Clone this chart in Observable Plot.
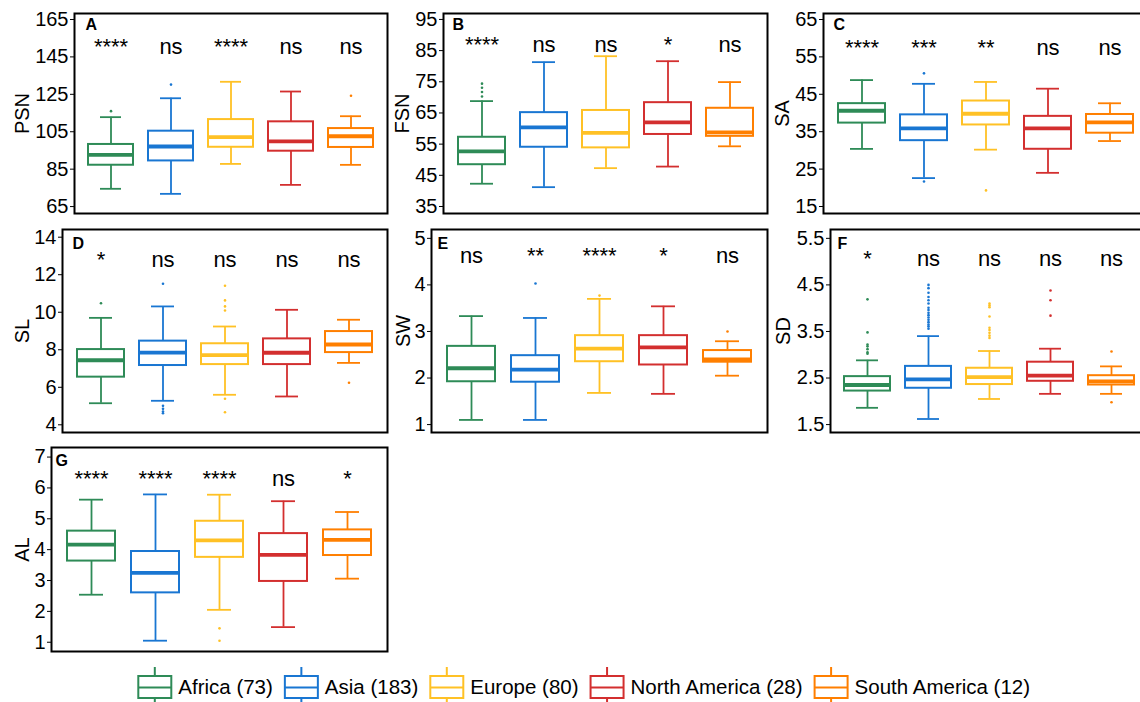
<!DOCTYPE html>
<html>
<head>
<meta charset="utf-8">
<script src="https://cdn.jsdelivr.net/npm/d3@7"></script>
<script src="https://cdn.jsdelivr.net/npm/@observablehq/plot@0.6"></script>
<style>
  body { margin: 0; background: #fff; }
  #wrap { position: relative; width: 1140px; height: 702px; overflow: hidden; font-family: "Liberation Sans", Arial, sans-serif; }
  .panel { position: absolute; }
  #legend { position: absolute; left: 0; top: 664px; }
</style>
</head>
<body>
<div id="wrap"></div>
<script>
// ---------- data ----------
const regions = ["Africa", "Asia", "Europe", "North America", "South America"];
const counts = [73, 183, 80, 28, 12];
const colors = ["#2E8B57", "#1976D2", "#FFC125", "#D32F2F", "#FF7F00"];

// box stats per region: [lower whisker, Q1, median, Q3, upper whisker]
const PSN = [[74.5, 87.1, 92.6, 98.2, 112.8], [71.8, 89.4, 97.1, 105.3, 122.9], [87.8, 96.7, 102.1, 111.5, 131.7], [76.6, 94.6, 99.8, 110.3, 126.5], [87.3, 96.6, 102.6, 106.7, 113.3]];
const PSN_out = [[116.0], [130.2], [], [], [124.2]];
const PSN_sig = ["****", "ns", "****", "ns", "ns"];
const PSN_ticks = [65, 85, 105, 125, 145, 165];

const FSN = [[42.3, 48.4, 52.65, 57.2, 68.8], [41.2, 54.0, 60.4, 65.1, 81.3], [47.3, 53.8, 58.6, 65.8, 83.2], [47.8, 58.1, 62.0, 68.3, 81.6], [54.3, 57.5, 58.8, 66.5, 74.9]];
const FSN_out = [[70.3, 71.7, 73.1, 74.4], [], [], [], []];
const FSN_sig = ["****", "ns", "ns", "*", "ns"];
const FSN_ticks = [35, 45, 55, 65, 75, 85, 95];

const SA = [[30.4, 37.3, 40.6, 42.5, 48.8], [22.6, 32.6, 35.9, 39.5, 47.8], [30.2, 36.8, 39.8, 43.2, 48.3], [24.0, 30.3, 35.9, 39.1, 46.5], [32.5, 34.6, 37.5, 39.6, 42.6]];
const SA_out = [[], [50.6, 21.7], [19.3], [], []];
const SA_sig = ["****", "***", "**", "ns", "ns"];
const SA_ticks = [15, 25, 35, 45, 55, 65];

const SL = [[5.15, 6.54, 7.44, 8.01, 9.70], [5.28, 7.16, 7.85, 8.46, 10.31], [5.60, 7.21, 7.71, 8.32, 9.24], [5.51, 7.21, 7.84, 8.58, 10.13], [7.30, 7.85, 8.28, 8.97, 9.60]];
const SL_out = [[10.48], [11.52, 5.01, 4.85, 4.71, 4.62], [11.41, 10.63, 10.31, 10.09, 5.39, 4.67], [], [6.24]];
const SL_sig = ["*", "ns", "ns", "ns", "ns"];
const SL_ticks = [4, 6, 8, 10, 12, 14];

const SW = [[1.10, 1.92, 2.21, 2.68, 3.33], [1.10, 1.91, 2.18, 2.48, 3.29], [1.68, 2.35, 2.63, 2.91, 3.70], [1.66, 2.28, 2.66, 2.91, 3.54], [2.05, 2.34, 2.40, 2.59, 2.79]];
const SW_out = [[], [4.03], [3.77], [], [3.00]];
const SW_sig = ["ns", "**", "****", "*", "ns"];
const SW_ticks = [1, 2, 3, 4, 5];

const SD = [[1.86, 2.22, 2.35, 2.53, 2.88], [1.62, 2.28, 2.47, 2.75, 3.40], [2.05, 2.36, 2.52, 2.71, 3.08], [2.16, 2.43, 2.55, 2.84, 3.13], [2.16, 2.35, 2.43, 2.55, 2.75]];
const SD_out = [[4.19, 3.48, 3.22, 3.18, 3.12, 3.05, 3.02], [4.50, 4.43, 4.33, 4.24, 4.17, 4.10, 4.01, 3.96, 3.90, 3.85, 3.80, 3.75, 3.70, 3.65, 3.61, 3.56], [4.10, 4.06, 4.02, 3.82, 3.58, 3.53, 3.47, 3.41, 3.36], [4.38, 4.17, 3.84], [3.07, 1.98]];
const SD_sig = ["*", "ns", "ns", "ns", "ns"];
const SD_ticks = [1.5, 2.5, 3.5, 4.5, 5.5];

const AL = [[2.54, 3.63, 4.16, 4.60, 5.62], [1.05, 2.60, 3.25, 3.94, 5.79], [2.05, 3.75, 4.30, 4.92, 5.78], [1.49, 2.97, 3.83, 4.52, 5.57], [3.06, 3.81, 4.32, 4.64, 5.22]];
const AL_out = [[], [], [1.45, 1.05], [], []];
const AL_sig = ["****", "****", "****", "ns", "*"];
const AL_ticks = [1, 2, 3, 4, 5, 6, 7];

// ---------- layout ----------
const panels = [
  {tag: "A", name: "PSN", stats: PSN, out: PSN_out, sig: PSN_sig, ticks: PSN_ticks, sigY: 146.3, domain: [61.3, 168.2], left: 0,   top: 0,   mL: 74, mR: 3, mT: 13, mB: 7, tagDx: 11, tagDy: 16, labDx: -51.7},
  {tag: "B", name: "FSN", stats: FSN, out: FSN_out, sig: FSN_sig, ticks: FSN_ticks, sigY: 84.5,  domain: [32.75, 96.9], left: 380, top: 0,   mL: 63, mR: 3, mT: 13, mB: 7, tagDx: 9,  tagDy: 16, labDx: -41},
  {tag: "C", name: "SA",  stats: SA,  out: SA_out,  sig: SA_sig,  ticks: SA_ticks,  sigY: 55.4,  domain: [13.13, 66.6], left: 760, top: 0,   mL: 63, mR: 2, mT: 13, mB: 7, tagDx: 10, tagDy: 16, labDx: -41},
  {tag: "D", name: "SL",  stats: SL,  out: SL_out,  sig: SL_sig,  ticks: SL_ticks,  sigY: 12.4,  domain: [3.59, 14.41], left: 0,   top: 220, mL: 62, mR: 3, mT: 9,  mB: 8, tagDx: 10, tagDy: 19, labDx: -40},
  {tag: "E", name: "SW",  stats: SW,  out: SW_out,  sig: SW_sig,  ticks: SW_ticks,  sigY: 4.46,  domain: [0.83, 5.19],  left: 380, top: 220, mL: 51, mR: 3, mT: 9,  mB: 8, tagDx: 6,  tagDy: 19, labDx: -28},
  {tag: "F", name: "SD",  stats: SD,  out: SD_out,  sig: SD_sig,  ticks: SD_ticks,  sigY: 4.9,   domain: [1.33, 5.69],  left: 760, top: 220, mL: 70, mR: 2, mT: 9,  mB: 8, tagDx: 7,  tagDy: 19, labDx: -47},
  {tag: "G", name: "AL",  stats: AL,  out: AL_out,  sig: AL_sig,  ticks: AL_ticks,  sigY: 6.06,  domain: [0.70, 7.31],  left: 0,   top: 440, mL: 51, mR: 3, mT: 7,  mB: 9, tagDx: 4,  tagDy: 18, labDx: -29}
];

const FONT = "'Liberation Sans', Arial, Helvetica, sans-serif";
const wrap = document.getElementById("wrap");

for (const p of panels) {
  const rows = regions.map((r, i) => ({region: r, lo: p.stats[i][0], q1: p.stats[i][1], med: p.stats[i][2], q3: p.stats[i][3], hi: p.stats[i][4]}));
  const outs = p.out.flatMap((vs, i) => vs.map(v => ({region: regions[i], v})));
  const sigs = regions.map((r, i) => ({region: r, s: p.sig[i]}));
  const chart = Plot.plot({
    width: 390, height: 220,
    marginLeft: p.mL, marginRight: p.mR, marginTop: p.mT, marginBottom: p.mB,
    style: {background: "transparent", fontFamily: FONT, overflow: "visible", color: "black"},
    x: {type: "band", domain: regions, paddingInner: 0.25, paddingOuter: 0.225, axis: null},
    y: {domain: p.domain, axis: null},
    color: {domain: regions, range: colors},
    marks: [
      Plot.axisY({ticks: p.ticks, tickSize: 4, tickPadding: 2, fontSize: 20, label: null, tickFormat: d => String(d)}),
      Plot.ruleX(rows, {x: "region", y1: "q3", y2: "hi", stroke: "region", strokeWidth: 1.8}),
      Plot.ruleX(rows, {x: "region", y1: "lo", y2: "q1", stroke: "region", strokeWidth: 1.8}),
      Plot.tickY(rows, {x: "region", y: "hi", stroke: "region", strokeWidth: 1.8, inset: 12}),
      Plot.tickY(rows, {x: "region", y: "lo", stroke: "region", strokeWidth: 1.8, inset: 12}),
      Plot.barY(rows, {x: "region", y1: "q1", y2: "q3", fill: "white", stroke: "region", strokeWidth: 2}),
      Plot.tickY(rows, {x: "region", y: "med", stroke: "region", strokeWidth: 3.8}),
      Plot.dot(outs, {x: "region", y: "v", r: 1.3, fill: "region", stroke: null}),
      Plot.text(sigs, {x: "region", y: () => p.sigY, text: "s", fontSize: 22, lineAnchor: "bottom", fill: "black"}),
      Plot.text([p.tag], {frameAnchor: "top-left", dx: p.tagDx, dy: p.tagDy, text: d => d, fontWeight: "bold", fontSize: 16, lineAnchor: "bottom", textAnchor: "start", fill: "black"}),
      Plot.text([p.name], {frameAnchor: "left", dx: p.labDx, rotate: -90, text: d => d, fontSize: 20, lineAnchor: "middle", textAnchor: "middle", fill: "black"}),
      Plot.frame({stroke: "black", strokeWidth: 2})
    ]
  });
  chart.classList.add("panel");
  chart.style.left = p.left + "px";
  chart.style.top = p.top + "px";
  wrap.appendChild(chart);
}

// ---------- legend ----------
const leg = d3.select(wrap).append("svg").attr("id", "legend").attr("width", 1140).attr("height", 38)
  .style("font-family", FONT);
let x = 137.3;
regions.forEach((r, i) => {
  const g = leg.append("g").attr("transform", `translate(${x},0)`);
  const c = colors[i];
  g.append("line").attr("x1", 17.5).attr("x2", 17.5).attr("y1", 3).attr("y2", 12).attr("stroke", c).attr("stroke-width", 2);
  g.append("line").attr("x1", 17.5).attr("x2", 17.5).attr("y1", 34).attr("y2", 38).attr("stroke", c).attr("stroke-width", 2);
  g.append("rect").attr("x", 1).attr("y", 12).attr("width", 33).attr("height", 22).attr("fill", "white").attr("stroke", c).attr("stroke-width", 2);
  g.append("line").attr("x1", 1).attr("x2", 34).attr("y1", 23.5).attr("y2", 23.5).attr("stroke", c).attr("stroke-width", 2);
  const t = g.append("text").attr("x", 41).attr("y", 30.3).attr("font-size", 20.5).attr("fill", "black")
    .text(`${r} (${counts[i]})`);
  const w = t.node().getComputedTextLength();
  x += 41 + w + 11;
});
</script>
</body>
</html>
